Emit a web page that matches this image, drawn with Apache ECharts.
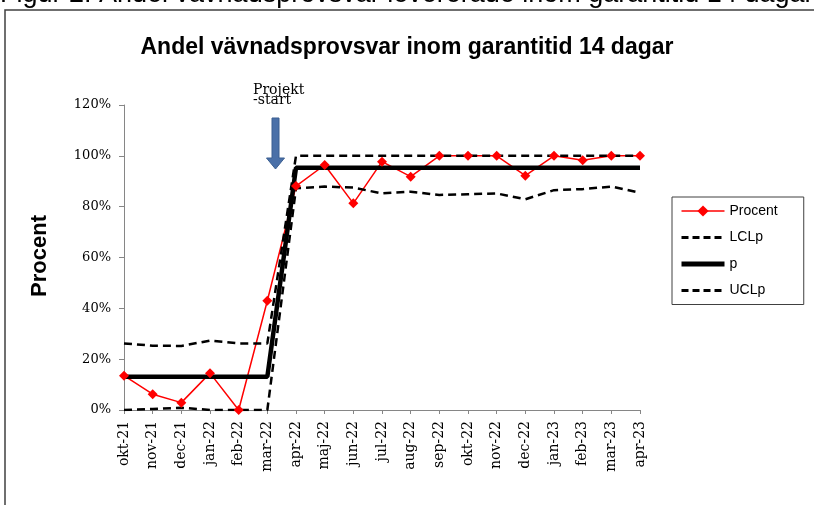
<!DOCTYPE html>
<html>
<head>
<meta charset="utf-8">
<script src="https://cdn.jsdelivr.net/npm/echarts@6/dist/echarts.min.js"></script>
<style>
  html, body { margin: 0; padding: 0; background: #fff; }
  #main { width: 814px; height: 505px; }
</style>
</head>
<body>
<div id="main"></div>
<script>
// månader
var months = ['okt-21','nov-21','dec-21','jan-22','feb-22','mar-22','apr-22','maj-22','jun-22','jul-22',
  'aug-22','sep-22','okt-22','nov-22','dec-22','jan-23','feb-23','mar-23','apr-23'];
// andel i tid (avläst)
var procent = [0.135, 0.062, 0.029, 0.145, 0.0, 0.43, 0.881, 0.964, 0.813, 0.977,
  0.918, 1.0, 1.0, 1.0, 0.922, 1.0, 0.983, 1.0, 1.0];
// styrgränser
var lclp = [0.0, 0.004, 0.009, 0.0, 0.0, 0.0, 0.872, 0.879, 0.875, 0.852,
  0.859, 0.846, 0.849, 0.852, 0.829, 0.865, 0.869, 0.879, 0.855];
var pLine = [0.131, 0.131, 0.131, 0.131, 0.131, 0.131, 0.953, 0.953, 0.953, 0.953,
  0.953, 0.953, 0.953, 0.953, 0.953, 0.953, 0.953, 0.953, 0.953];
var uclp = [0.262, 0.253, 0.252, 0.273, 0.262, 0.262, 1.0, 1.0, 1.0, 1.0,
  1.0, 1.0, 1.0, 1.0, 1.0, 1.0, 1.0, 1.0, 1.0];

var serif = '"DejaVu Serif", "Liberation Serif", serif';
var sans = '"Liberation Sans", Arial, sans-serif';
var noDot = { color: 'rgba(0,0,0,0)', borderWidth: 0 };

var chart = echarts.init(document.getElementById('main'));
chart.setOption({
  animation: false,
  backgroundColor: '#fff',
  title: {
    text: 'Andel vävnadsprovsvar inom garantitid 14 dagar',
    left: 'center',
    top: 31,
    textStyle: { fontFamily: sans, fontSize: 23, fontWeight: 'bold', color: '#000' }
  },
  grid: { left: 124, right: 174, top: 105, bottom: 95 },
  legend: {
    orient: 'vertical',
    left: 672,
    top: 197,
    padding: [7, 26, 7, 7],
    itemWidth: 43,
    itemHeight: 14,
    itemGap: 12.5,
    borderColor: '#404040',
    borderWidth: 1,
    borderRadius: 0,
    textStyle: { fontFamily: sans, fontSize: 14, color: '#000' },
    data: [
      { name: 'Procent', lineStyle: { width: 1.5 } },
      { name: 'LCLp', itemStyle: noDot, lineStyle: { width: 3, type: [7, 4] } },
      { name: 'p', itemStyle: noDot, lineStyle: { width: 5 } },
      { name: 'UCLp', itemStyle: noDot, lineStyle: { width: 3, type: [7, 4] } }
    ]
  },
  xAxis: {
    type: 'category',
    data: months,
    boundaryGap: false,
    axisLine: { lineStyle: { color: '#868686', width: 1 } },
    axisTick: { show: true, alignWithLabel: true, length: 4, lineStyle: { color: '#868686' } },
    axisLabel: { rotate: 90, interval: 0, fontFamily: serif, fontSize: 14, color: '#000', margin: 11 },
    splitLine: { show: false }
  },
  yAxis: {
    type: 'value',
    min: 0,
    max: 1.2,
    interval: 0.2,
    axisLine: { show: true, lineStyle: { color: '#868686', width: 1 } },
    axisTick: { show: true, length: 5, lineStyle: { color: '#868686' } },
    axisLabel: {
      fontFamily: serif, fontSize: 13, color: '#000', margin: 13,
      formatter: function (v) { return Math.round(v * 100) + '%'; }
    },
    splitLine: { show: false }
  },
  series: [
    {
      name: 'Procent', type: 'line', data: procent,
      symbol: 'diamond', symbolSize: 10,
      lineStyle: { color: '#FF0000', width: 1.5 },
      itemStyle: { color: '#FF0000' }
    },
    {
      name: 'LCLp', type: 'line', data: lclp, symbol: 'none',
      lineStyle: { color: '#000', width: 2.5, type: [8, 5] },
      itemStyle: { color: '#000' }
    },
    {
      name: 'p', type: 'line', data: pLine, symbol: 'none',
      lineStyle: { color: '#000', width: 4.5 },
      itemStyle: { color: '#000' }
    },
    {
      name: 'UCLp', type: 'line', data: uclp, symbol: 'none',
      lineStyle: { color: '#000', width: 2.5, type: [8, 5] },
      itemStyle: { color: '#000' }
    }
  ],
  graphic: [
    { type: 'text', x: 0, y: 8, style: {
        text: 'Figur 2. Andel vävnadsprovsvar levererade inom garantitid 14 dagar',
        font: '27px ' + sans, fill: '#000', verticalAlign: 'bottom' } },
    { type: 'rect', shape: { x: 5, y: 10, width: 900, height: 600 },
      style: { fill: 'none', stroke: '#404040', lineWidth: 1.5 }, silent: true },
    { type: 'text', x: 40, y: 256, rotation: Math.PI / 2, style: {
        text: 'Procent', font: 'bold 22px ' + sans, fill: '#000',
        align: 'center', verticalAlign: 'middle' } },
    { type: 'text', x: 253, y: 90, style: {
        text: 'Projekt', font: '14px ' + serif, fill: '#000', verticalAlign: 'middle' } },
    { type: 'text', x: 253, y: 100, style: {
        text: '-start', font: '14px ' + serif, fill: '#000', verticalAlign: 'middle' } },
    { type: 'polygon', shape: { points: [[272, 118], [279, 118], [279, 158], [284.5, 158],
        [275.5, 169], [266.5, 158], [272, 158]] },
      style: { fill: '#4A70A8', stroke: '#3B5F91', lineWidth: 1 } }
  ]
});
</script>
</body>
</html>
